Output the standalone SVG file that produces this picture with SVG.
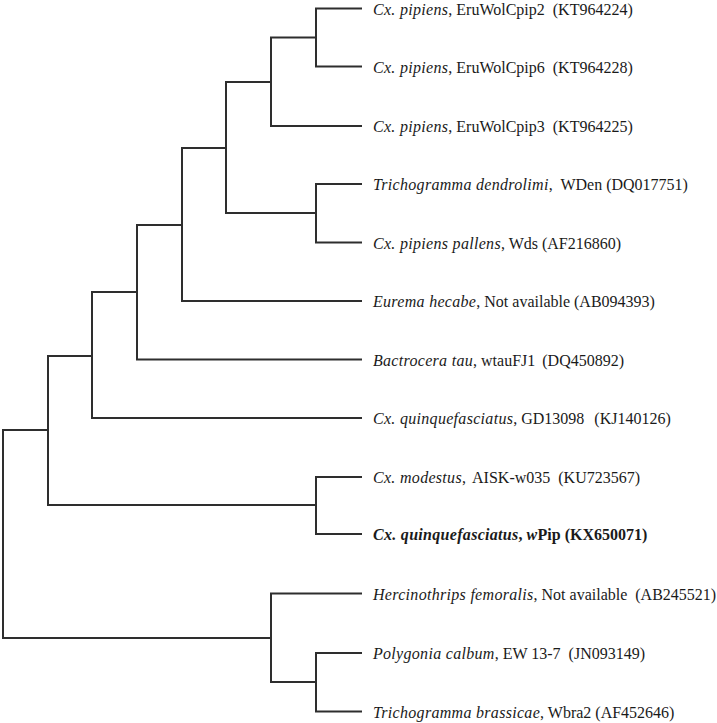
<svg xmlns="http://www.w3.org/2000/svg" width="717" height="723" viewBox="0 0 717 723">
<style>
.br{fill:none;stroke:#2e2e2e;stroke-width:2;stroke-linecap:square;stroke-linejoin:miter}
.lb{font-family:"Liberation Serif","Times New Roman",serif;font-size:16px;fill:#1a1a1a}
.it{font-style:italic;letter-spacing:0.3px}
.b{font-weight:bold}
</style>
<rect width="717" height="723" fill="#fff"/>
<g id="connectors" class="br">
<path d="M316,8.5H361M316,66.5H361M316,8.5V66.5"/>
<path d="M271,37.5H316M271,126H361M271,37.5V126"/>
<path d="M226,82H271M226,213H316M226,82V213"/>
<path d="M316,184H361M316,242.5H361M316,184V242.5"/>
<path d="M182,148H226M182,301H361M182,148V301"/>
<path d="M137,225H182M137,359.5H361M137,225V359.5"/>
<path d="M92,292H137M92,418H361M92,292V418"/>
<path d="M48,356H92M48,505H316M48,356V505"/>
<path d="M316,477H361M316,534H361M316,477V534"/>
<path d="M3,430H48M3,638H271M3,430V638"/>
<path d="M271,593.5H361M271,682H316M271,593.5V682"/>
<path d="M316,653H361M316,711.5H361M316,653V711.5"/>
</g>
<g id="leaf1"><text class="lb" x="373" y="14.5"><tspan class="it">Cx. pipiens</tspan>, EruWolCpip2 <tspan dx="4">(KT964224)</tspan></text></g>
<g id="leaf2"><text class="lb" x="373" y="72.5"><tspan class="it">Cx. pipiens</tspan>, EruWolCpip6 <tspan dx="4">(KT964228)</tspan></text></g>
<g id="leaf3"><text class="lb" x="373" y="132"><tspan class="it">Cx. pipiens</tspan>, EruWolCpip3 <tspan dx="4">(KT964225)</tspan></text></g>
<g id="leaf4"><text class="lb" x="373" y="190"><tspan class="it">Trichogramma dendrolimi</tspan>, <tspan dx="4">WDen (DQ017751)</tspan></text></g>
<g id="leaf5"><text class="lb" x="373" y="248.5"><tspan class="it">Cx. pipiens pallens</tspan>, Wds (AF216860)</text></g>
<g id="leaf6"><text class="lb" x="373" y="307"><tspan class="it">Eurema hecabe</tspan>, Not available (AB094393)</text></g>
<g id="leaf7"><text class="lb" x="373" y="365.5"><tspan class="it">Bactrocera tau</tspan>, wtauFJ1 <tspan dx="3">(DQ450892)</tspan></text></g>
<g id="leaf8"><text class="lb" x="373" y="424"><tspan class="it">Cx. quinquefasciatus</tspan>, GD13098 <tspan dx="6">(KJ140126)</tspan></text></g>
<g id="leaf9"><text class="lb" x="373" y="483"><tspan class="it">Cx. modestus</tspan>, <tspan dx="3">AISK-w035</tspan> <tspan dx="4">(KU723567)</tspan></text></g>
<g id="leaf10"><text class="lb b" x="373" y="540"><tspan class="it">Cx. quinquefasciatus</tspan>, <tspan class="it">w</tspan>Pip (KX650071)</text></g>
<g id="leaf11"><text class="lb" x="373" y="599.5"><tspan class="it">Hercinothrips femoralis</tspan>, Not available <tspan dx="4">(AB245521)</tspan></text></g>
<g id="leaf12"><text class="lb" x="373" y="659"><tspan class="it">Polygonia calbum</tspan>, EW 13-7 <tspan dx="4">(JN093149)</tspan></text></g>
<g id="leaf13"><text class="lb" x="373" y="717.5"><tspan class="it">Trichogramma brassicae</tspan>, Wbra2 (AF452646)</text></g>
</svg>
